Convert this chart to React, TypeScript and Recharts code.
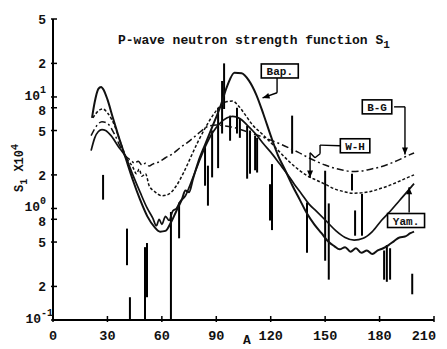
import React from "react";
import { ComposedChart, Line, XAxis, YAxis, ReferenceLine, ReferenceDot } from "recharts";

// the chart is larger than the body box; keep the window free of scrollbars
if (typeof document !== "undefined") {
  document.documentElement.style.overflow = "hidden";
}

const xTicks = [0, 30, 60, 90, 120, 150, 180, 210];
const yTicks = [0.1, 0.2, 0.5, 0.8, 1, 2, 5, 8, 10, 20, 50];
const yTickBase = ["10", "2", "5", "8", "10", "2", "5", "8", "10", "2", "5"];
const yTickExp = ["-1", "", "", "", "0", "", "", "", "1", "", ""];

// Bap. (solid, tallest)
const bapA = [21.5, 23, 25, 26.5, 28, 30, 33, 36, 40, 44, 48, 52, 56, 59, 62, 65, 68, 71, 73, 75, 77, 80, 84, 88, 92, 96, 100, 104, 108, 112, 116, 120, 124, 128, 132, 136, 140, 144, 148, 152, 155, 158, 161, 164, 167, 170, 173, 176, 179, 182, 185, 188, 191, 194, 197, 199];
const bapS = [6.5, 9, 11.8, 12.3, 11.5, 9.5, 6.5, 4.5, 2.85, 1.8, 1.2, 0.85, 0.68, 0.62, 0.63, 0.75, 0.95, 1.2, 1.45, 1.4, 1.8, 2.6, 3.8, 5.5, 8, 12.5, 16.5, 16.3, 14, 10.5, 7, 4.5, 3, 2.2, 1.6, 1.2, 0.9, 0.72, 0.6, 0.5, 0.46, 0.43, 0.45, 0.41, 0.44, 0.4, 0.42, 0.39, 0.42, 0.44, 0.47, 0.51, 0.55, 0.56, 0.6, 0.62];

// W-H (dotted)
const whA = [22, 25, 27.5, 30, 34, 37, 40, 44, 46, 47.5, 49, 51, 53, 56, 60, 64, 68, 72, 76, 80, 84, 88, 92, 96, 99, 102, 106, 110, 115, 120, 125, 130, 135, 140, 145, 150, 155, 160, 165, 170, 175, 180, 185, 190, 195, 199];
const whS = [6.5, 7.5, 7.8, 7.2, 5.5, 4.0, 2.95, 2.35, 2.05, 2.25, 1.95, 2.05, 1.6, 1.42, 1.3, 1.35, 1.6, 2.1, 2.9, 4.0, 5.3, 6.8, 8.2, 9.1, 9.2, 8.4, 6.9, 5.6, 4.7, 3.9, 3.2, 2.65, 2.25, 1.97, 1.8, 1.65, 1.5, 1.42, 1.37, 1.38, 1.42, 1.5, 1.6, 1.73, 1.88, 2.0];

// B-G (dash-dot)
const bgA = [21, 24, 27, 30, 34, 37, 40, 43, 45, 47, 49, 51, 53, 55, 58, 62, 66, 70, 74, 78, 82, 86, 90, 95, 100, 105, 110, 115, 120, 125, 130, 135, 140, 145, 150, 155, 160, 165, 170, 175, 180, 185, 190, 195, 199];
const bgS = [4.5, 5.5, 6.0, 5.8, 4.6, 3.6, 2.95, 2.7, 2.55, 2.65, 2.45, 2.55, 2.4, 2.5, 2.6, 2.85, 3.1, 3.5, 3.9, 4.4, 5.0, 5.5, 5.6, 5.5, 5.3, 5.0, 4.7, 4.4, 4.1, 3.8, 3.5, 3.2, 2.9, 2.65, 2.45, 2.3, 2.2, 2.15, 2.17, 2.25, 2.35, 2.5, 2.7, 2.95, 3.15];

// Yam. (solid, structured)
const yamA = [21, 23, 25, 27, 29, 32, 36, 40, 44, 48, 52, 55, 57, 58.5, 60, 62, 64, 66, 68, 70, 73, 76, 80, 84, 88, 92, 96, 99, 103, 107, 112, 116, 120, 125, 129, 133, 137, 141, 145, 151, 156, 161, 166, 171, 176, 181, 186, 191, 195, 199];
const yamS = [3.3, 4.3, 4.9, 5.1, 5.0, 4.5, 3.6, 2.9, 2.0, 1.4, 1.0, 0.82, 0.7, 0.8, 0.72, 0.85, 0.78, 0.95, 1.0, 1.15, 1.3, 1.7, 2.5, 3.6, 4.8, 5.8, 6.5, 6.7, 6.4, 5.6, 4.6, 3.8, 3.2, 2.5, 2.05, 1.65, 1.35, 1.1, 0.95, 0.76, 0.63, 0.55, 0.52, 0.54, 0.62, 0.78, 0.95, 1.18, 1.4, 1.67];

// experimental points: vertical bars
const barA = [27.6, 40.8, 42.4, 50.7, 51.8, 65, 69.5, 83.8, 85.4, 87.7, 91, 93.2, 94.3, 97.6, 101.4, 103, 107, 108.6, 111.4, 112.5, 119.6, 120.7, 131.8, 140, 150, 152, 164.8, 166.5, 170.3, 182.5, 184, 185.8, 198];
const barLo = [1.2, 0.31, 0.1, 0.1, 0.16, 0.1, 0.54, 1.6, 1.06, 1.9, 2.3, 4.7, 7.8, 4.05, 4.7, 4.3, 1.85, 2.05, 2.2, 2.1, 0.78, 0.64, 3.1, 0.4, 0.34, 0.23, 1.45, 0.57, 0.57, 0.23, 0.22, 0.23, 0.17];
const barHi = [2.0, 0.66, 0.16, 0.45, 0.49, 0.93, 1.13, 3.65, 2.42, 5.0, 8.0, 13.9, 20, 6.8, 8.0, 6.4, 5.5, 5.0, 4.5, 4.3, 1.65, 2.5, 6.8, 1.13, 2.18, 1.11, 2.05, 0.96, 1.35, 0.42, 0.47, 0.44, 0.26];

// curve labels
const labelNames = ["Bap.", "B-G", "W-H", "Yam."];
const labelA = [125, 178.6, 166.5, 194.6];
const labelS = [17.1, 8.15, 3.65, 0.78];

// leader lines from the label boxes (A, S pairs)
const bapLeadA = [123.5, 123.5, 115.5];
const bapLeadS = [14.8, 10.9, 9.8];
const bgLeadA = [188, 194, 194];
const bgLeadS = [8.15, 8.15, 3.05];
const whLeadA = [158.2, 147.2, 147.2, 144.4, 141.7, 141.7];
const whLeadS = [3.65, 3.7, 3.1, 2.85, 3.16, 1.9];
const yamLeadA = [196.3, 196.3];
const yamLeadS = [0.92, 1.55];

const toPts = (a: number[], s: number[]) => a.map((v, i) => ({ a: v, s: s[i] }));
const segs = (a: number[], s: number[]) =>
  a.slice(1).map((v, i) => [{ x: a[i], y: s[i] }, { x: v, y: s[i + 1] }]);

const FONT = "'Liberation Mono', 'DejaVu Sans Mono', monospace";

function BottomTick(props: any) {
  const { x, y, payload } = props;
  // the last label sits on the window edge, keep it inside
  const last = payload.value === xTicks[xTicks.length - 1];
  return (
    <g>
      <line x1={x} x2={x} y1={y} y2={y - 6} stroke="#000" strokeWidth={1.5} />
      <text
        x={last ? x + 2 : x}
        y={y + 18}
        textAnchor={last ? "end" : "middle"}
        fontFamily={FONT}
        fontWeight="bold"
        fontSize={13.5}
        fill="#111"
      >
        {payload.value}
      </text>
    </g>
  );
}

function TopTick(props: any) {
  const { x, y } = props;
  return <line x1={x} x2={x} y1={y} y2={y + 6} stroke="#000" strokeWidth={1.5} />;
}

function LeftTick(props: any) {
  const { x, y, payload } = props;
  const i = yTicks.indexOf(payload.value);
  const exp = yTickExp[i];
  const base = yTickBase[i];
  const dx = exp === "-1" ? 2 : -5;
  const dy = exp ? 3 : base === "8" ? 7 : 5;
  return (
    <g>
      <line x1={x} x2={x + 6} y1={y} y2={y} stroke="#000" strokeWidth={1.5} />
      <text x={x + dx} y={y + dy} textAnchor="end" fontFamily={FONT} fontWeight="bold" fontSize={13} fill="#111">
        {base}
        {exp ? <tspan dy={-7} fontSize={10}>{exp}</tspan> : null}
      </text>
    </g>
  );
}

function RightTick(props: any) {
  const { x, y } = props;
  return <line x1={x} x2={x - 6} y1={y} y2={y} stroke="#000" strokeWidth={1.5} />;
}

function LabelBox(name: string) {
  return (p: any) => {
    const w = name.length * 7.5 + 7;
    const h = 14;
    return (
      <g>
        <rect x={p.cx - w / 2} y={p.cy - h / 2} width={w} height={h} fill="#fff" stroke="#000" strokeWidth={1.6} />
        <text x={p.cx} y={p.cy + 4} textAnchor="middle" fontFamily={FONT} fontWeight="bold" fontSize={11} fill="#111">
          {name}
        </text>
      </g>
    );
  };
}

function ArrowHead(angle: number) {
  return (p: any) => (
    <polygon
      points="0,0 -7,-3 -7,3"
      transform={`translate(${p.cx},${p.cy}) rotate(${angle})`}
      fill="#000"
    />
  );
}

const leads = [
  { a: bapLeadA, s: bapLeadS, angle: 162 },
  { a: bgLeadA, s: bgLeadS, angle: 90 },
  { a: whLeadA, s: whLeadS, angle: 90 },
  { a: yamLeadA, s: yamLeadS, angle: -90 },
];

export default function App() {
  const axisLine = { stroke: "#000", strokeWidth: 2 };
  return (
    <div style={{ position: "relative", width: 439, height: 341, background: "#fff" }}>
      <ComposedChart width={439} height={341} margin={{ top: 11, right: 13, left: 5, bottom: 0 }}>
        <XAxis
          dataKey="a"
          type="number"
          domain={[0, 210]}
          ticks={xTicks}
          interval={0}
          allowDataOverflow
          height={29}
          tickSize={0}
          tickLine={false}
          axisLine={axisLine}
          tick={<BottomTick />}
        />
        <XAxis
          xAxisId="top"
          orientation="top"
          type="number"
          domain={[0, 210]}
          ticks={xTicks.slice(1, -1)}
          interval={0}
          allowDataOverflow
          height={0}
          tickSize={0}
          tickLine={false}
          axisLine={axisLine}
          tick={<TopTick />}
        />
        <YAxis
          scale="log"
          type="number"
          domain={[0.1, 50]}
          ticks={yTicks}
          interval={0}
          allowDataOverflow
          width={40}
          tickSize={0}
          tickLine={false}
          axisLine={axisLine}
          tick={<LeftTick />}
        />
        <YAxis
          yAxisId="right"
          orientation="right"
          scale="log"
          type="number"
          domain={[0.1, 50]}
          ticks={yTicks.slice(1, -1)}
          interval={0}
          allowDataOverflow
          width={0}
          tickSize={0}
          tickLine={false}
          axisLine={axisLine}
          tick={<RightTick />}
        />

        {barA.map((a, i) => (
          <Line
            key={`bar${i}`}
            data={[{ a, s: barLo[i] }, { a, s: barHi[i] }]}
            dataKey="s"
            type="linear"
            stroke="#000"
            strokeWidth={2}
            dot={false}
            isAnimationActive={false}
          />
        ))}

        <Line data={toPts(bgA, bgS)} dataKey="s" type="monotone" stroke="#111" strokeWidth={1.5} strokeDasharray="7 3 2 3" dot={false} isAnimationActive={false} />
        <Line data={toPts(whA, whS)} dataKey="s" type="monotone" stroke="#111" strokeWidth={1.5} strokeDasharray="3 2" dot={false} isAnimationActive={false} />
        <Line data={toPts(yamA, yamS)} dataKey="s" type="monotone" stroke="#111" strokeWidth={1.7} dot={false} isAnimationActive={false} />
        <Line data={toPts(bapA, bapS)} dataKey="s" type="monotone" stroke="#111" strokeWidth={2} dot={false} isAnimationActive={false} />

        {leads.map((ld, li) =>
          segs(ld.a, ld.s).map((seg, si) => (
            <ReferenceLine key={`ld${li}-${si}`} segment={seg} stroke="#000" strokeWidth={1.4} ifOverflow="visible" />
          ))
        )}
        {leads.map((ld, li) => (
          <ReferenceDot
            key={`ah${li}`}
            x={ld.a[ld.a.length - 1]}
            y={ld.s[ld.s.length - 1]}
            ifOverflow="visible"
            shape={ArrowHead(ld.angle)}
          />
        ))}
        {labelNames.map((n, i) => (
          <ReferenceDot key={n} x={labelA[i]} y={labelS[i]} ifOverflow="visible" shape={LabelBox(n)} />
        ))}
      </ComposedChart>

      <svg
        width={439}
        height={341}
        style={{ position: "absolute", left: 0, top: 0, pointerEvents: "none", overflow: "visible" }}
      >
        <text x={110} y={36} fontFamily={FONT} fontWeight="bold" fontSize={13} fill="#111">
          P-wave neutron strength function S<tspan dy={4} fontSize={11}>1</tspan>
        </text>
        <text
          transform="translate(15,160) rotate(-90)"
          textAnchor="middle"
          fontFamily={FONT}
          fontWeight="bold"
          fontSize={12}
          fill="#111"
        >
          S<tspan dy={4} fontSize={10}>1</tspan>
          <tspan dy={-4}> X10</tspan>
          <tspan dy={-5} fontSize={10}>4</tspan>
        </text>
        <text x={239} y={336} textAnchor="middle" fontFamily={FONT} fontWeight="bold" fontSize={13} fill="#111">
          A
        </text>
      </svg>
    </div>
  );
}
